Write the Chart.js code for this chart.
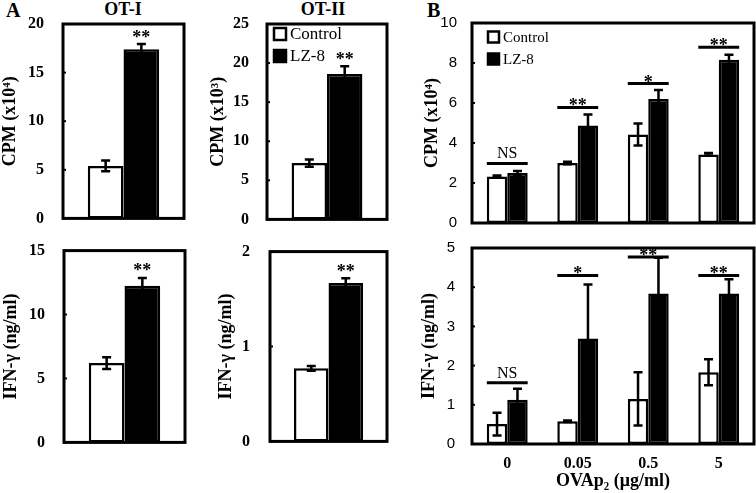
<!DOCTYPE html>
<html>
<head>
<meta charset="utf-8">
<script src="https://cdn.jsdelivr.net/npm/chart.js@4.4.0/dist/chart.umd.min.js"></script>
<style>
  body { margin: 0; background: #fff; width: 756px; height: 493px; position: relative; overflow: hidden; }
  .panel { position: absolute; }
  .lbl { position: absolute; font-family: "Liberation Serif", serif; font-weight: bold; color: #000; white-space: nowrap; }
</style>
</head>
<body>
<div class="lbl" style="left:6px;top:-1px;font-size:20px">A</div>
<div class="lbl" style="left:427px;top:-1px;font-size:20px">B</div>
<div class="lbl" style="left:90px;top:-1px;font-size:18px;width:66px;text-align:center">OT-I</div>
<div class="lbl" style="left:290px;top:-1px;font-size:18px;width:66px;text-align:center">OT-II</div>

<div class="panel" style="left:0;top:0"><canvas id="c1" width="190" height="239"></canvas></div>
<div class="panel" style="left:200px;top:0"><canvas id="c2" width="195" height="239"></canvas></div>
<div class="panel" style="left:410px;top:0"><canvas id="c3" width="346" height="239"></canvas></div>
<div class="panel" style="left:0;top:230px"><canvas id="c4" width="190" height="233"></canvas></div>
<div class="panel" style="left:200px;top:230px"><canvas id="c5" width="195" height="233"></canvas></div>
<div class="panel" style="left:410px;top:230px"><canvas id="c6" width="346" height="263"></canvas></div>

<script>
// series names
const seriesNames = ['Control', 'LZ-8'];

// A: OT-I / OT-II, values [Control, LZ-8]
const otiCpm = [5.4, 17.4];
const otiCpmErr = [0.55, 0.55];
const otiiCpm = [7.2, 18.6];
const otiiCpmErr = [0.45, 1.0];
const otiIfn = [6.2, 12.25];
const otiIfnErr = [0.45, 0.6];
const otiiIfn = [0.77, 1.67];
const otiiIfnErr = [0.025, 0.05];

// significance marks over LZ-8 in panel A
const aSig = ['**', '**', '**', '**'];
const aSigAt = [19.1, 21.0, 13.8, 1.84];

// B: OVAp2 doses
const doses = ['0', '0.05', '0.5', '5'];
const bCpmControl = [2.33, 3.0, 4.42, 3.43];
const bCpmControlErr = [0.05, 0.06, 0.55, 0.07];
const bCpmLz8 = [2.5, 4.88, 6.2, 8.16];
const bCpmLz8Err = [0.1, 0.55, 0.45, 0.25];
const bCpmSig = ['NS', '**', '*', '**'];
const bCpmSigAt = [2.98, 5.78, 6.97, 8.79];

const bIfnControl = [0.51, 0.58, 1.15, 1.83];
const bIfnControlErr = [0.29, 0.02, 0.68, 0.33];
const bIfnLz8 = [1.13, 2.69, 3.84, 3.84];
const bIfnLz8Err = [0.28, 1.38, 0.91, 0.36];
const bIfnSig = ['NS', '*', '**', '**'];
const bIfnSigAt = [1.56, 4.3, 4.77, 4.3];

const serif = '"Liberation Serif", serif';
const sans = '"Liberation Sans", Arial, sans-serif';

// draws error bars, significance marks, legend and the box frame
const panelPlugin = {
  id: 'panel',
  afterDatasetsDraw(chart, args, opts) {
    const ctx = chart.ctx;
    const y = chart.scales.y;
    ctx.save();
    // error bars
    chart.data.datasets.forEach((ds, di) => {
      const meta = chart.getDatasetMeta(di);
      meta.data.forEach((bar, i) => {
        const e = ds.errors[i];
        const v = ds.data[i];
        const yt = y.getPixelForValue(v + e);
        const yb = y.getPixelForValue(v - e);
        ctx.strokeStyle = '#000';
        ctx.lineWidth = 2.5;
        ctx.beginPath();
        ctx.moveTo(bar.x, yt); ctx.lineTo(bar.x, yb);
        ctx.moveTo(bar.x - 4.5, yt); ctx.lineTo(bar.x + 4.5, yt);
        ctx.moveTo(bar.x - 4.5, yb); ctx.lineTo(bar.x + 4.5, yb);
        ctx.stroke();
      });
    });
    // significance
    if (opts.sig) {
      const m0 = chart.getDatasetMeta(0), m1 = chart.getDatasetMeta(1);
      opts.sig.labels.forEach((t, i) => {
        const py = y.getPixelForValue(opts.sig.at[i]);
        let cx;
        if (opts.sig.line) {
          const b0 = m0.data[i], b1 = m1.data[i];
          const x0 = b0.x - b0.width / 2, x1 = b1.x + b1.width / 2;
          ctx.lineWidth = 3;
          ctx.beginPath(); ctx.moveTo(x0, py); ctx.lineTo(x1, py); ctx.stroke();
          cx = (x0 + x1) / 2;
        } else {
          cx = m1.data[i].x;
        }
        ctx.fillStyle = '#000';
        ctx.textAlign = 'center';
        ctx.textBaseline = 'alphabetic';
        if (t === 'NS') {
          ctx.font = '16px ' + serif;
          ctx.fillText(t, cx, opts.sig.line ? py - 5 : py);
        } else {
          ctx.font = 'bold 18px ' + serif;
          ctx.fillText(t, cx, (opts.sig.line ? py + 4 : py + 10));
        }
      });
    }
    ctx.restore();
  },
  afterDraw(chart, args, opts) {
    const ctx = chart.ctx;
    const a = chart.chartArea;
    const y = chart.scales.y;
    ctx.save();
    // legend
    if (opts.legend) {
      const lg = opts.legend;
      chart.data.datasets.forEach((ds, i) => {
        const cy = a.top + lg.y + i * lg.gap;
        const sx = a.left + lg.x;
        ctx.fillStyle = ds.backgroundColor;
        ctx.strokeStyle = '#000';
        ctx.lineWidth = 2.5;
        ctx.fillRect(sx, cy - lg.size / 2, lg.size, lg.size);
        ctx.strokeRect(sx, cy - lg.size / 2, lg.size, lg.size);
        ctx.fillStyle = '#000';
        ctx.font = lg.font + 'px ' + serif;
        ctx.textAlign = 'left';
        ctx.textBaseline = 'middle';
        ctx.fillText(ds.label, sx + lg.size + 4, cy + 1);
      });
    }
    // inner tick marks
    ctx.strokeStyle = '#000';
    ctx.lineWidth = 2;
    y.ticks.forEach(t => {
      const py = y.getPixelForValue(t.value);
      ctx.beginPath(); ctx.moveTo(a.left, py); ctx.lineTo(a.left + 3, py); ctx.stroke();
    });
    // frame
    ctx.lineWidth = 3;
    ctx.strokeRect(a.left, a.top, a.right - a.left, a.bottom - a.top);
    ctx.restore();
  }
};

function makePanel(id, cfg) {
  const xAxis = cfg.xTitle ? {
    grid: { display: false }, border: { display: false },
    ticks: { color: '#000', font: { family: serif, size: 16, weight: 'bold' }, padding: 2 },
    title: { display: true, text: cfg.xTitle, color: '#000', font: { family: serif, size: 18, weight: 'bold' }, padding: { top: 0, bottom: 1 } },
    afterFit: s => { s.height = cfg.xh; }
  } : {
    grid: { display: false }, border: { display: false },
    ticks: { display: false },
    afterFit: s => { s.height = cfg.xh; }
  };
  return new Chart(document.getElementById(id), {
    type: 'bar',
    data: {
      labels: cfg.labels,
      datasets: [
        { label: seriesNames[0], data: cfg.control, errors: cfg.controlErr, backgroundColor: '#fff', borderColor: '#000', borderWidth: 2.5, borderSkipped: false },
        { label: seriesNames[1], data: cfg.lz8, errors: cfg.lz8Err, backgroundColor: '#000', borderColor: '#000', borderWidth: 2.5, borderSkipped: false }
      ]
    },
    options: {
      responsive: false,
      animation: false,
      layout: { padding: cfg.pad },
      datasets: { bar: { categoryPercentage: cfg.cat, barPercentage: 1 } },
      plugins: {
        legend: { display: false },
        tooltip: { enabled: false },
        panel: { legend: cfg.legend, sig: cfg.sig }
      },
      scales: {
        x: xAxis,
        y: {
          min: 0, max: cfg.max,
          grid: { display: false }, border: { display: false },
          ticks: { stepSize: cfg.step, color: '#000', padding: cfg.tickPad, font: cfg.tickFont },
          title: { display: true, text: cfg.yTitle, color: '#000', font: { family: serif, size: 18, weight: 'bold' }, padding: { top: cfg.titlePad, bottom: 0 } },
          afterFit: s => { s.width = cfg.yw; }
        }
      }
    },
    plugins: [panelPlugin]
  });
}

const aTick = { family: serif, size: 16, weight: 'bold' };
const bTick = { family: sans, size: 15 };

makePanel('c1', {
  labels: [''], control: [otiCpm[0]], controlErr: [otiCpmErr[0]], lz8: [otiCpm[1]], lz8Err: [otiCpmErr[1]],
  max: 20, step: 5, yTitle: 'CPM (x10⁴)', yw: 63, titlePad: 0, tickPad: 11, tickFont: aTick,
  pad: { top: 24, right: 6, bottom: 0, left: 0 }, cat: 0.59, xh: 12,
  sig: { labels: [aSig[0]], at: [aSigAt[0]], line: false }
});
makePanel('c2', {
  labels: [''], control: [otiiCpm[0]], controlErr: [otiiCpmErr[0]], lz8: [otiiCpm[1]], lz8Err: [otiiCpmErr[1]],
  max: 25, step: 5, yTitle: 'CPM (x10³)', yw: 67, titlePad: 8, tickPad: 10, tickFont: aTick,
  pad: { top: 24, right: 8, bottom: 0, left: 0 }, cat: 0.59, xh: 12,
  legend: { x: 7, y: 10, gap: 22, size: 12, font: 17 },
  sig: { labels: [aSig[1]], at: [aSigAt[1]], line: false }
});
makePanel('c3', {
  labels: doses, control: bCpmControl, controlErr: bCpmControlErr, lz8: bCpmLz8, lz8Err: bCpmLz8Err,
  max: 10, step: 2, yTitle: 'CPM (x10⁴)', yw: 62, titlePad: 12, tickPad: 7, tickFont: bTick,
  pad: { top: 23, right: 2, bottom: 0, left: 0 }, cat: 0.58, xh: 12,
  legend: { x: 16, y: 14, gap: 22, size: 11, font: 15 },
  sig: { labels: bCpmSig, at: bCpmSigAt, line: true }
});
makePanel('c4', {
  labels: [''], control: [otiIfn[0]], controlErr: [otiIfnErr[0]], lz8: [otiIfn[1]], lz8Err: [otiIfnErr[1]],
  max: 15, step: 5, yTitle: 'IFN-γ (ng/ml)', yw: 64, titlePad: 1, tickPad: 11, tickFont: aTick,
  pad: { top: 16, right: 5, bottom: 0, left: 0 }, cat: 0.59, xh: 12,
  sig: { labels: [aSig[2]], at: [aSigAt[2]], line: false }
});
makePanel('c5', {
  labels: [''], control: [otiiIfn[0]], controlErr: [otiiIfnErr[0]], lz8: [otiiIfn[1]], lz8Err: [otiiIfnErr[1]],
  max: 2, step: 1, yTitle: 'IFN-γ (ng/ml)', yw: 70, titlePad: 16, tickPad: 12, tickFont: aTick,
  pad: { top: 16, right: 8, bottom: 0, left: 0 }, cat: 0.59, xh: 12,
  sig: { labels: [aSig[3]], at: [aSigAt[3]], line: false }
});
makePanel('c6', {
  labels: doses, control: bIfnControl, controlErr: bIfnControlErr, lz8: bIfnLz8, lz8Err: bIfnLz8Err,
  max: 5, step: 1, yTitle: 'IFN-γ (ng/ml)', yw: 62, titlePad: 9, tickPad: 9, tickFont: bTick,
  pad: { top: 16, right: 2, bottom: 0, left: 0 }, cat: 0.58, xTitle: 'OVAp₂ (μg/ml)', xh: 49,
  sig: { labels: bIfnSig, at: bIfnSigAt, line: true }
});
</script>
</body>
</html>
